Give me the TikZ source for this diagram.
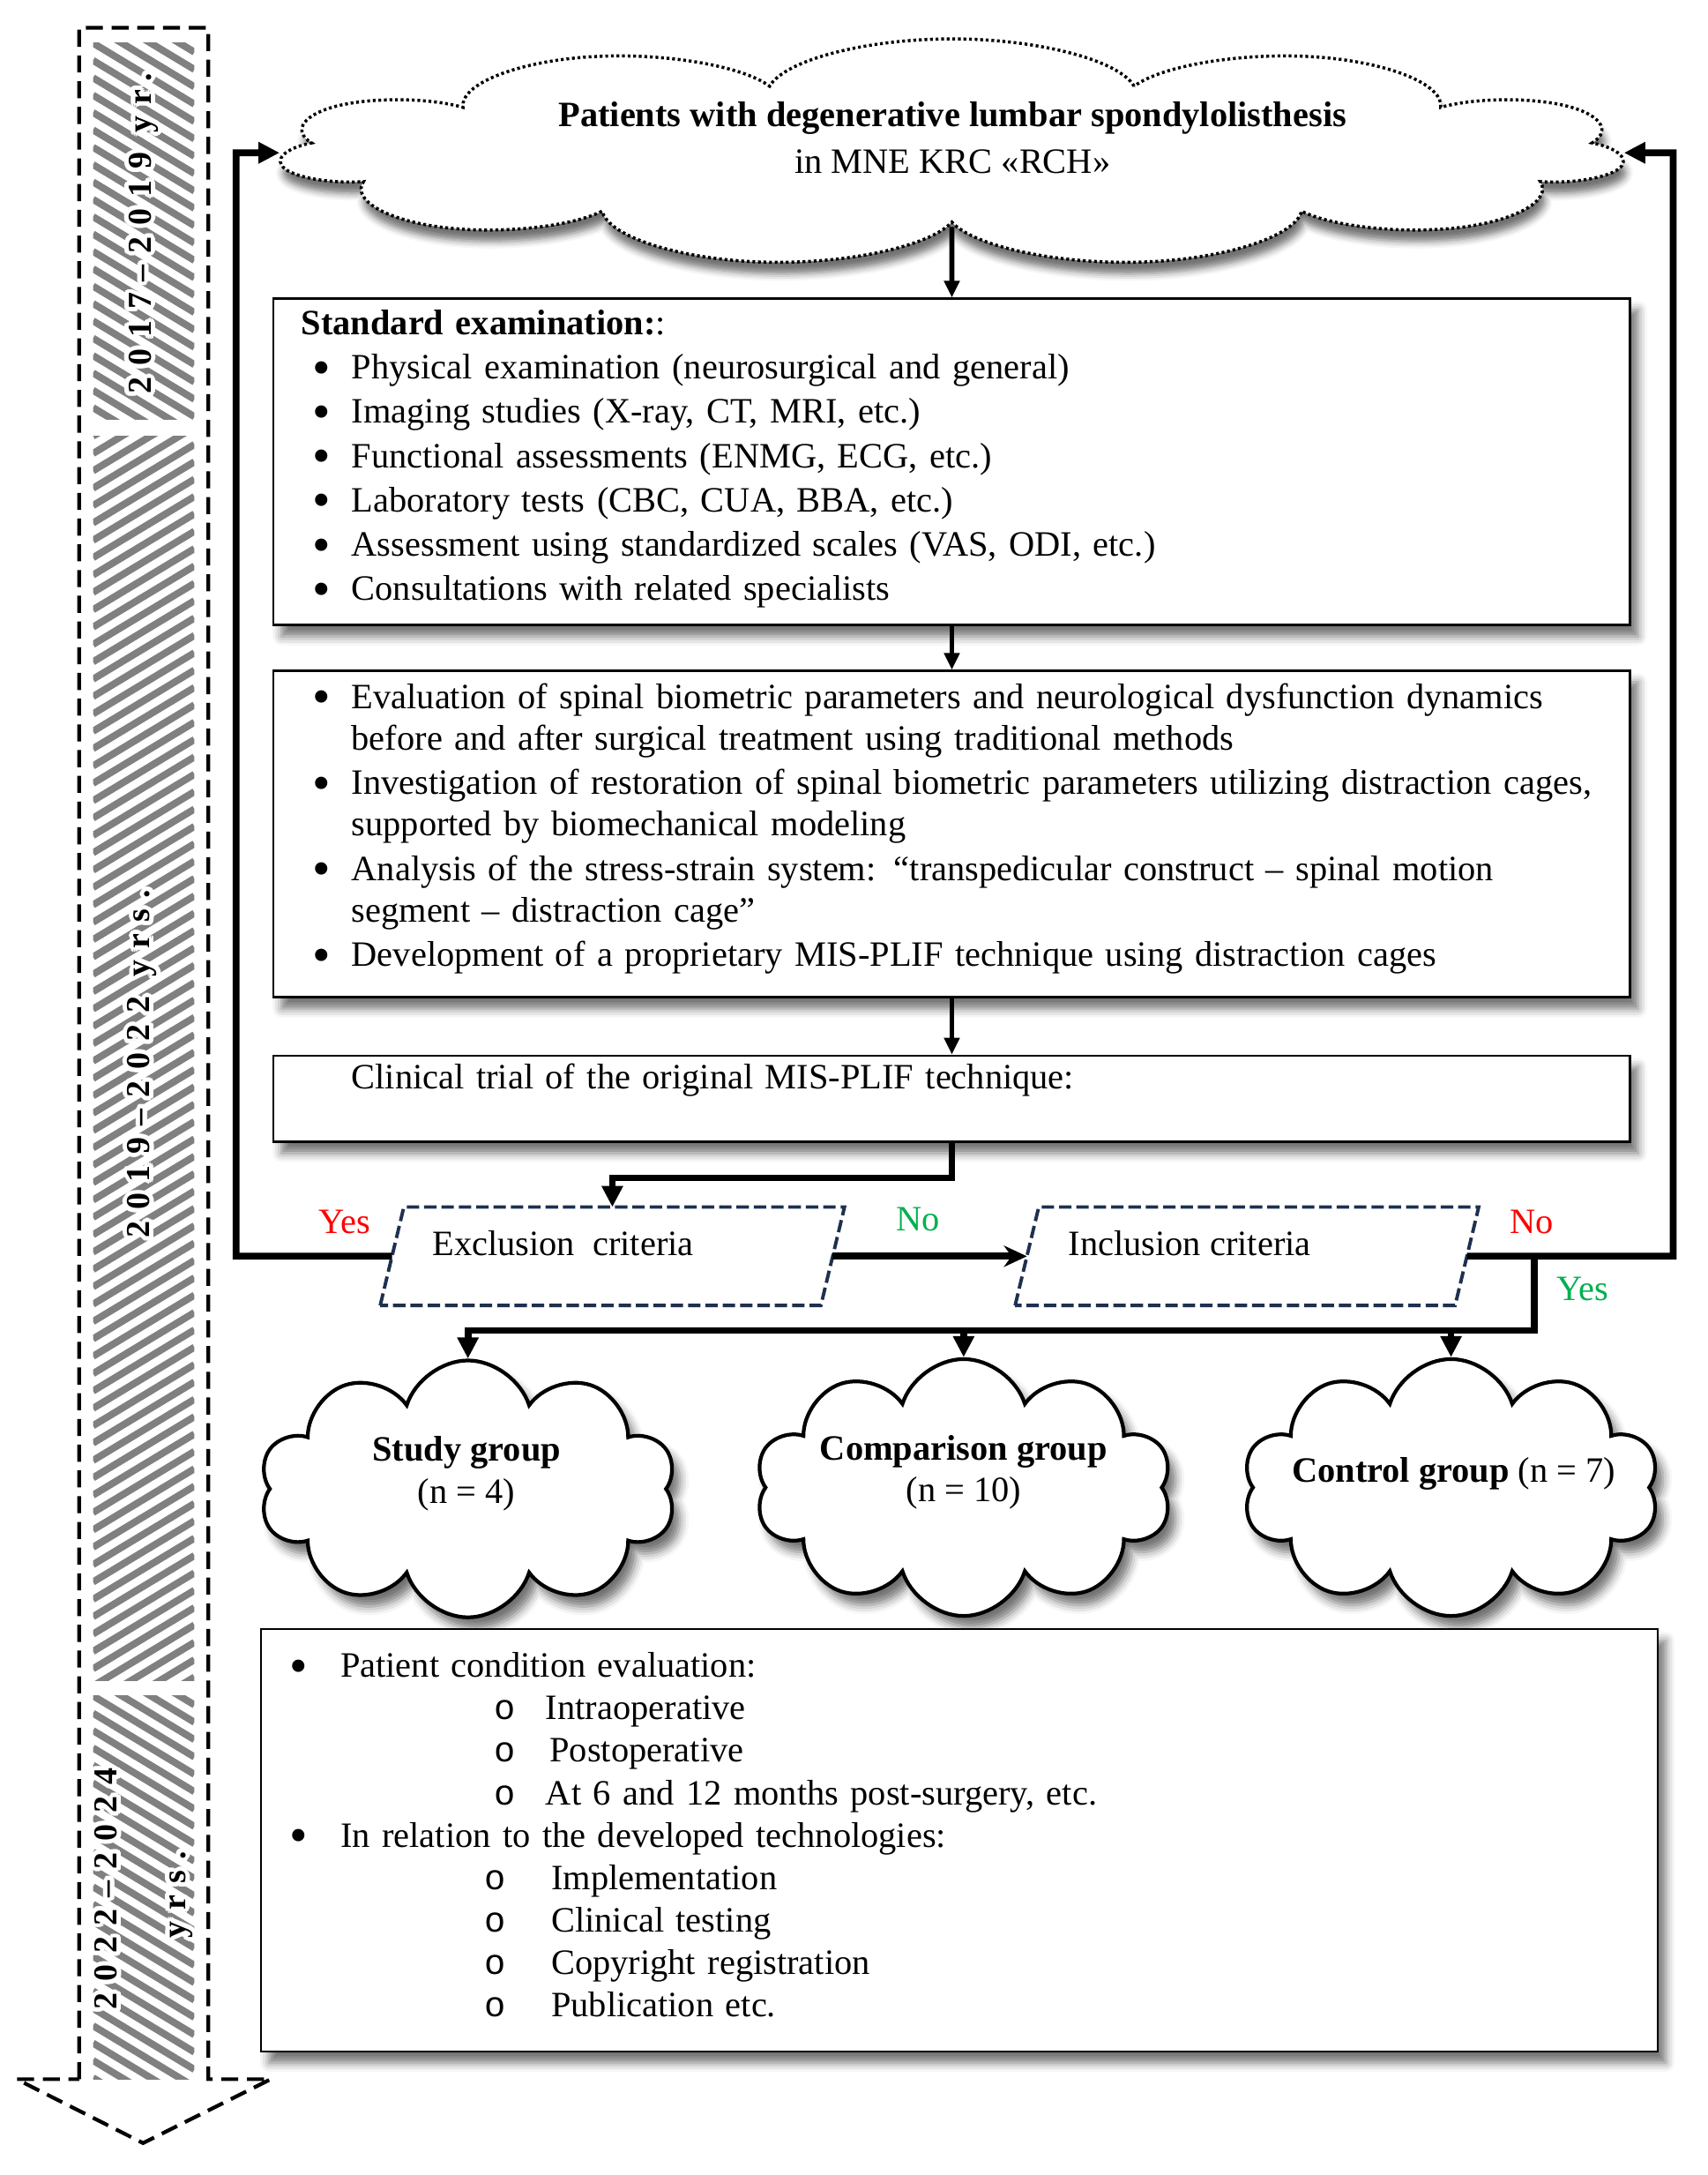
\documentclass[tikz,border=0pt]{standalone}
\usepackage{graphicx}
\usepackage{fontspec}
\setmainfont{Liberation Serif}
\newfontfamily\yearfont[LetterSpace=34]{Liberation Serif}
\newfontfamily\circfont{Liberation Mono}
\usepackage{contour}
\contourlength{1.4pt}
\usetikzlibrary{arrows.meta,shapes.geometric,shapes.symbols,shadows.blur}

\definecolor{stripegray}{HTML}{808080}
\definecolor{critnavy}{HTML}{1F3050}
\definecolor{yesred}{HTML}{FF0000}
\definecolor{nogreen}{HTML}{00B050}

\newcommand{\bigdot}{\raisebox{-0.16em}{\scalebox{1.45}{\textbullet}}}
\newcommand{\dotitem}{\hspace*{1.3mm}\makebox[4.4mm][l]{\bigdot}}
\newcommand{\contline}{\hspace*{5.7mm}}
\newcommand{\topitem}{\hspace*{0.05mm}\makebox[5.8mm][l]{\bigdot}}
\newcommand{\circitem}[2]{\hspace*{#1}\makebox[#2][l]{\circfont o}}

\tikzset{
  txt/.style={inner sep=0pt, font=\fontsize{11.5}{14.3}\selectfont},
  redlbl/.style={txt, text=yesred},
  greenlbl/.style={txt, text=nogreen},
  boxshadow/.style={blur shadow={shadow xshift=0.9mm, shadow yshift=-1.3mm, shadow blur radius=1mm, shadow opacity=55}},
  infobox/.style={draw, line width=0.7pt, fill=white, boxshadow, align=left,
    inner xsep=3.15mm, inner ysep=0pt, text width=147.56mm, minimum width=153.86mm,
    font=\fontsize{11.5}{14.3}\selectfont},
  critnode/.style={rectangle, minimum height=11.02mm, inner sep=0pt},
  crit/.style={draw=critnavy, line width=1.1pt, dash pattern=on 4pt off 1.6pt},
  grpcloud/.style={cloud, cloud puffs=10, cloud puff arc=145, cloud ignores aspect, draw,
    line width=1.2pt, fill=white, boxshadow, minimum width=47.24mm, minimum height=29.13mm, inner sep=0pt},
  topcloud/.style={cloud, cloud puffs=11, cloud puff arc=160, cloud ignores aspect, draw,
    line width=1pt, dash pattern=on 0.9pt off 0.9pt, fill=white,
    blur shadow={shadow xshift=0.3mm, shadow yshift=-1.3mm, shadow blur radius=0.8mm, shadow opacity=55},
    minimum width=47.3mm, minimum height=25.83mm, inner sep=0pt, transform shape},
  flow/.style={line width=1.6pt, -{Triangle[length=1.9mm,width=1.7mm]}},
  bigflow/.style={line width=2.2pt, -{Triangle[length=2.4mm,width=2.3mm]}},
  passline/.style={line width=2.2pt, -{Stealth[length=2.6mm,width=2.4mm]}},
  stripe/.style={line width=0.8mm, stripegray},
  tline/.style={line width=1.2pt, dash pattern=on 5.5pt off 2.8pt},
  yearlbl/.style={rotate=90, inner sep=0pt, font=\yearfont\bfseries\fontsize{10.8}{12}\selectfont}
}

\begin{document}
\begin{tikzpicture}[x=0.15748mm, y=-0.15748mm]
  \useasboundingbox (0,0) rectangle (1230,1566);

  %%%%% timeline %%%%%
  \begin{scope}
    \clip (67,31) rectangle (140,302);
    \foreach \k in {-5,...,24} \draw[stripe] (67,31+12.5*\k) -- ++(73,44);
  \end{scope}
  \begin{scope}
    \clip (67,314) rectangle (140,1210);
    \foreach \k in {0,...,76} \draw[stripe] (67,314+12.5*\k) -- ++(73,-44);
  \end{scope}
  \begin{scope}
    \clip (67,1221) rectangle (140,1497);
    \foreach \k in {-5,...,24} \draw[stripe] (67,1221+12.5*\k) -- ++(73,44);
  \end{scope}
  \draw[tline] (57,1497) -- (57,20) -- (150,20) -- (150,1497) -- (195,1497) -- (103,1543) -- (12,1497) -- cycle;

  \node[yearlbl] (yrA) at (105,168) {\contour{white}{2017–2019 yr.}};
  \node[yearlbl] (yrB) at (104,766) {\contour{white}{2019–2022 yrs.}};
  \node[yearlbl] (yrC) at (78,1360) {\contour{white}{2022–2024}};
  \node[yearlbl] (yrCs) at (132,1364) {\contour{white}{yrs.}};

  %%%%% boxes %%%%%
  \begin{scope}[shift={(685.5,110)}, xscale=3.23]
    \node[topcloud] (patients) at (0,0) {};
  \end{scope}
  \node[txt, align=center] (patientstxt) at (686,99)
    {\textbf{Patients with degenerative lumbar spondylolisthesis}\\[0.9pt] in MNE KRC «RCH»};

  \node[infobox, minimum height=37.01mm] (exam) at (685.5,332.5) {%
    \textbf{Standard examination:}:\\
    \dotitem Physical examination (neurosurgical and general)\\
    \dotitem Imaging studies (X-ray, CT, MRI, etc.)\\
    \dotitem Functional assessments (ENMG, ECG, etc.)\\
    \dotitem Laboratory tests (CBC, CUA, BBA, etc.)\\
    \dotitem Assessment using standardized scales (VAS, ODI, etc.)\\
    \dotitem Consultations with related specialists\\[-10pt]\mbox{}};

  \node[infobox, minimum height=37.01mm, font=\fontsize{11.5}{13.4}\selectfont] (aims) at (685.5,600.5) {%
    \dotitem Evaluation of spinal biometric parameters and neurological dysfunction dynamics\\
    \contline before and after surgical treatment using traditional methods\\[0.93pt]
    \dotitem Investigation of restoration of spinal biometric parameters utilizing distraction cages,\\
    \contline supported by biomechanical modeling\\[0.93pt]
    \dotitem Analysis of the stress-strain system: “transpedicular construct – spinal motion\\
    \contline segment – distraction cage”\\[0.93pt]
    \dotitem Development of a proprietary MIS-PLIF technique using distraction cages\\[-7.5pt]\mbox{}};

  \node[infobox, minimum height=9.76mm] (trial) at (685.5,791) {%
    \contline Clinical trial of the original MIS-PLIF technique:\\ \mbox{}};

  \node[critnode, minimum width=49.84mm] (excl) at (441,904.5) {};
  \draw[crit] ([xshift=-1.34mm]excl.south west) -- ([xshift=1.34mm]excl.north west)
    -- ([xshift=1.34mm]excl.north east) -- ([xshift=-1.34mm]excl.south east) -- cycle;
  \node[txt, anchor=west] (excltxt) at (311,895) {Exclusion\ \ criteria};
  \node[critnode, minimum width=49.76mm] (incl) at (898,904.5) {};
  \draw[crit] ([xshift=-1.34mm]incl.south west) -- ([xshift=1.34mm]incl.north west)
    -- ([xshift=1.34mm]incl.north east) -- ([xshift=-1.34mm]incl.south east) -- cycle;
  \node[txt, anchor=west] (incltxt) at (769,895) {Inclusion criteria};

  \node[grpcloud] (study) at (337,1072) {};
  \node[txt, align=center, font=\fontsize{11.5}{13.4}\selectfont] (studytxt) at (336,1061) {\textbf{Study group}\\(n = 4)};
  \node[grpcloud] (comp) at (694,1071) {};
  \node[txt, align=center, font=\fontsize{11.5}{13.4}\selectfont] (comptxt) at (694,1060) {\textbf{Comparison group}\\(n = 10)};
  \node[grpcloud] (ctrl) at (1045,1071) {};
  \node[txt] (ctrltxt) at (1047,1061) {\textbf{Control group} (n = 7)};

  \node[infobox, text width=152.12mm, minimum width=158.42mm, minimum height=47.87mm,
        font=\fontsize{11.5}{13.7}\selectfont] (outcome) at (691,1325) {%
    \topitem Patient condition evaluation:\\
    \circitem{23.34mm}{5.8mm}Intraoperative\\
    \circitem{23.34mm}{6.25mm}Postoperative\\
    \circitem{23.34mm}{5.8mm}At 6 and 12 months post-surgery, etc.\\
    \topitem In relation to the developed technologies:\\
    \circitem{22.24mm}{7.53mm}Implementation\\
    \circitem{22.24mm}{7.53mm}Clinical testing\\
    \circitem{22.24mm}{7.53mm}Copyright registration\\
    \circitem{22.24mm}{7.53mm}Publication etc.\\[-10.1pt]\mbox{}};

  %%%%% connectors %%%%%
  \coordinate (turn) at (685.5,848);
  \coordinate (lft) at (170,110);
  \coordinate (rgt) at (1205,110);
  \coordinate (fork) at (1105,904.5);
  \coordinate (bus) at (1105,958);

  \draw[flow] (patients.south) -- (exam.north);
  \draw[flow] (exam.south) -- (aims.north);
  \draw[flow] (aims.south) -- (trial.north);
  \draw[bigflow] (trial.south) -- (turn) -| (excl.north);
  \draw[bigflow] (excl.west) -| (lft) -- (patients.west);
  \draw[passline] (excl.east) -- (incl.west);
  \draw[bigflow] (incl.east) -| (rgt) -- (patients.east);
  \draw[bigflow] (fork) -- (bus) -| (study.north);
  \draw[bigflow] (comp.north |- bus) -- (comp.north);
  \draw[bigflow] (ctrl.north |- bus) -- (ctrl.north);

  \node[redlbl] (yesL) at (248,880) {Yes};
  \node[greenlbl] (noM) at (661,878) {No};
  \node[redlbl] (noR) at (1103,880) {No};
  \node[greenlbl] (yesR) at (1140,928) {Yes};
\end{tikzpicture}
\end{document}
